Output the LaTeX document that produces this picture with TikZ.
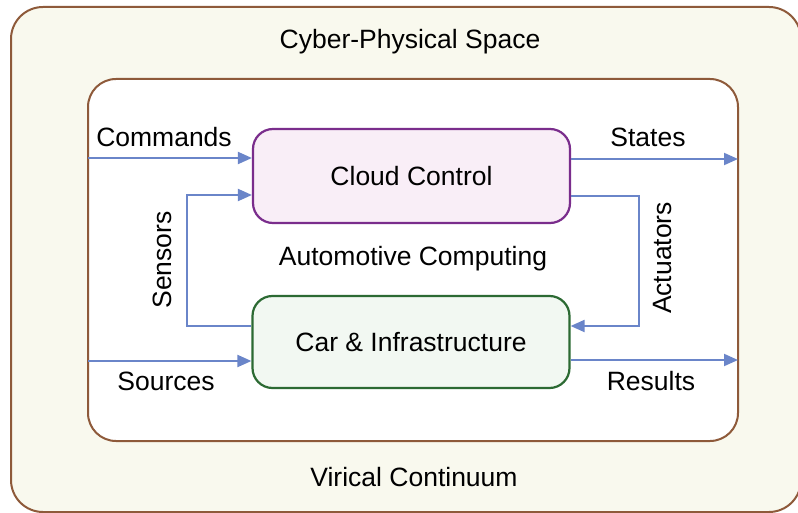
\documentclass[tikz,border=0pt]{standalone}
\usepackage{fontspec}
\setmainfont{Liberation Sans}
\usetikzlibrary{arrows.meta}
\definecolor{outerfill}{HTML}{F9F9EE}
\definecolor{brownline}{HTML}{8E5A3A}
\definecolor{cloudfill}{HTML}{F9EEF7}
\definecolor{cloudline}{HTML}{7A2D8C}
\definecolor{carfill}{HTML}{F2F8F2}
\definecolor{carline}{HTML}{2C6A33}
\definecolor{arrowblue}{HTML}{6A85C9}
\tikzset{
  lbl/.style={font=\fontsize{26.5}{31}\selectfont, inner sep=0pt},
  flow/.style={draw=arrowblue, line width=2pt, -{Triangle[length=14pt,width=12pt]}},
  block/.style={rounded corners=20pt, line width=2.2pt, minimum width=317pt, minimum height=94pt, lbl}
}
\begin{document}
\begin{tikzpicture}[x=1pt,y=-1pt]
\useasboundingbox (0,0) rectangle (798,513);
\fill[white] (0,0) rectangle (798,513);
\draw[brownline, fill=outerfill, line width=2pt, rounded corners=32pt] (11,7) rectangle (801,512);
\draw[brownline, fill=white, line width=2pt, rounded corners=28pt] (88,79) rectangle (738,441);
\node[lbl] (cps) at (410,42) {Cyber-Physical Space};
\node[lbl] (vc) at (414,477) {Virical Continuum};
\node[lbl] (ac) at (413,259) {Automotive Computing};
\node[block, draw=cloudline, fill=cloudfill] (cloud) at (411.5,176) {Cloud Control};
\node[block, draw=carline, fill=carfill, minimum height=92pt] (car) at (411,342) {Car \& Infrastructure};
\coordinate (inL1) at (88,158);
\coordinate (inL2) at (88,361);
\coordinate (outR1) at (738,159);
\coordinate (outR2) at (738,360);
\draw[flow] (inL1) -- (cloud.west |- inL1);
\draw[flow] (inL2) -- (car.west |- inL2);
\draw[flow] (cloud.east |- outR1) -- (outR1);
\draw[flow] (car.east |- outR2) -- (outR2);
\coordinate (sA) at (187,326);
\coordinate (sB) at (187,195);
\draw[flow] (car.west |- sA) -- (sA) -- (sB) -- (cloud.west |- sB);
\coordinate (aA) at (639,196);
\coordinate (aB) at (639,326);
\draw[flow] (cloud.east |- aA) -- (aA) -- (aB) -- (car.east |- aB);
\node[lbl] (cmd) at (164,137) {Commands};
\node[lbl] (st) at (648,137) {States};
\node[lbl] (src) at (166,381) {Sources};
\node[lbl] (res) at (651,381) {Results};
\node[lbl, rotate=90] (sen) at (162,260) {Sensors};
\node[lbl, rotate=90] (act) at (663,258) {Actuators};
\end{tikzpicture}
\end{document}
